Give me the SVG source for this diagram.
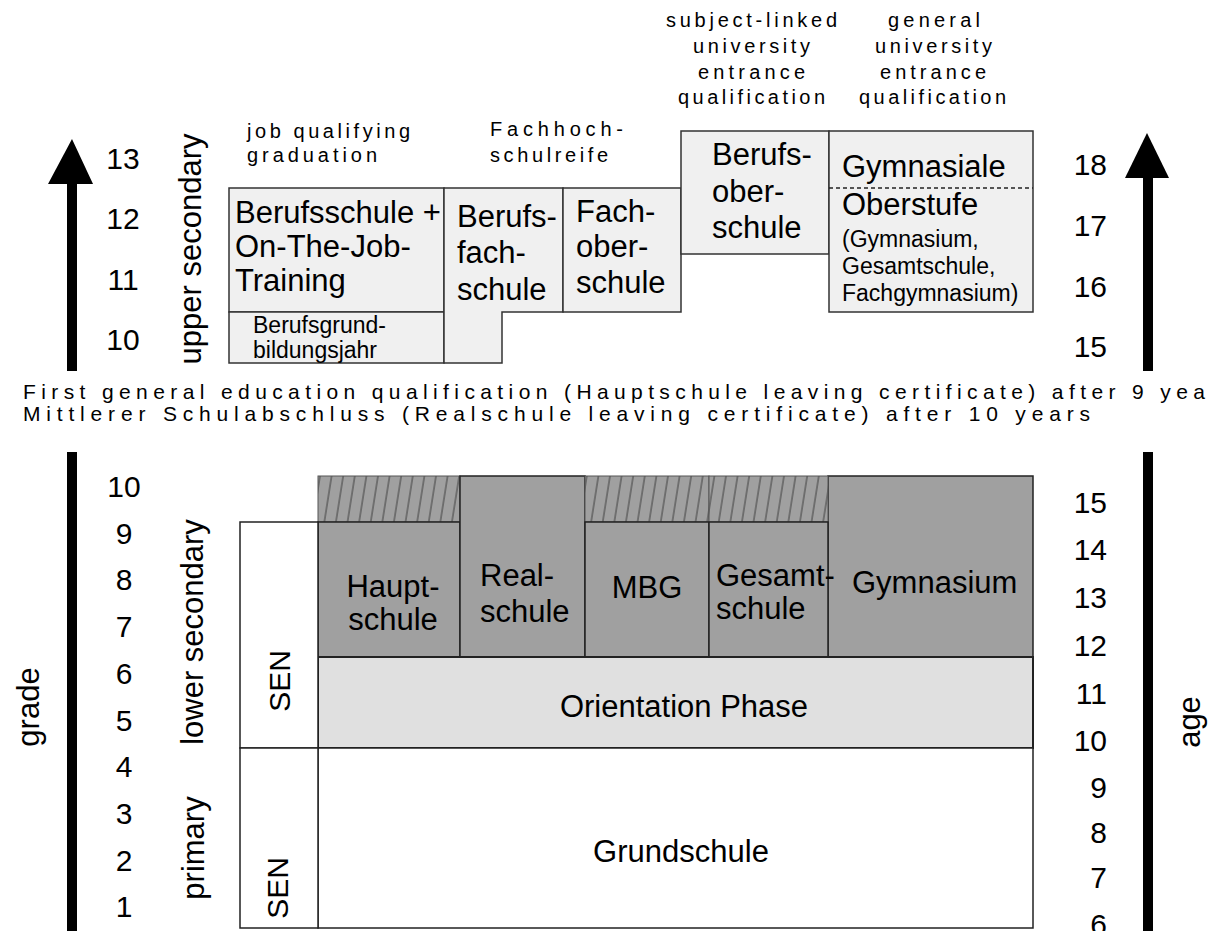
<svg xmlns="http://www.w3.org/2000/svg" width="1208" height="931" viewBox="0 0 1208 931">
<style>
text{font-family:"Liberation Sans",Arial,sans-serif;fill:#000}
.bx{fill:#f0f0f0;stroke:#333;stroke-width:1.5}
.dk{fill:#a0a0a0;stroke:#222;stroke-width:1.5}
.ht{fill:url(#hatch);stroke:#555;stroke-width:1}
.wh{fill:#fff;stroke:#222;stroke-width:1.5}
.b{font-size:31px}
.m{font-size:23px}
.n{font-size:30px}
.q{font-size:20px}
.l{font-size:21px}
.ax{fill:#000}
</style>
<defs>
<pattern id="hatch" patternUnits="userSpaceOnUse" width="11.6" height="46" patternTransform="skewX(-9)">
<rect width="11.6" height="46" fill="#a0a0a0"/>
<line x1="1" y1="-1" x2="1" y2="47" stroke="#333" stroke-width="0.9"/>
</pattern>
</defs>

<g id="axes">
<polygon class="ax" points="72,139 48,184 93,184"/>
<rect class="ax" x="67" y="183" width="10" height="188"/>
<polygon class="ax" points="1147,133 1125,178 1169,178"/>
<rect class="ax" x="1143" y="177" width="10" height="194"/>
<rect class="ax" x="67" y="452" width="10" height="479"/>
<rect class="ax" x="1143" y="452" width="10" height="479"/>
</g>

<g id="labels">
<text class="n" text-anchor="middle" x="123" y="169">13</text>
<text class="n" text-anchor="middle" x="123" y="229">12</text>
<text class="n" text-anchor="middle" x="123" y="290">11</text>
<text class="n" text-anchor="middle" x="123" y="350">10</text>
<text class="n" text-anchor="end" x="1107" y="175">18</text>
<text class="n" text-anchor="end" x="1107" y="236">17</text>
<text class="n" text-anchor="end" x="1107" y="297">16</text>
<text class="n" text-anchor="end" x="1107" y="357">15</text>
<text class="b" text-anchor="middle" transform="translate(201,249) rotate(-90)">upper secondary</text>

<text class="n" text-anchor="middle" x="124" y="497">10</text>
<text class="n" text-anchor="middle" x="124" y="544">9</text>
<text class="n" text-anchor="middle" x="124" y="590">8</text>
<text class="n" text-anchor="middle" x="124" y="637">7</text>
<text class="n" text-anchor="middle" x="124" y="684">6</text>
<text class="n" text-anchor="middle" x="124" y="731">5</text>
<text class="n" text-anchor="middle" x="124" y="777">4</text>
<text class="n" text-anchor="middle" x="124" y="824">3</text>
<text class="n" text-anchor="middle" x="124" y="871">2</text>
<text class="n" text-anchor="middle" x="124" y="917">1</text>
<text class="n" text-anchor="end" x="1107" y="513">15</text>
<text class="n" text-anchor="end" x="1107" y="560">14</text>
<text class="n" text-anchor="end" x="1107" y="608">13</text>
<text class="n" text-anchor="end" x="1107" y="656">12</text>
<text class="n" text-anchor="end" x="1107" y="704">11</text>
<text class="n" text-anchor="end" x="1107" y="751">10</text>
<text class="n" text-anchor="end" x="1107" y="798">9</text>
<text class="n" text-anchor="end" x="1107" y="843">8</text>
<text class="n" text-anchor="end" x="1107" y="888">7</text>
<text class="n" text-anchor="end" x="1107" y="935">6</text>
<text class="b" text-anchor="middle" transform="translate(39,707) rotate(-90)">grade</text>
<text class="b" text-anchor="middle" transform="translate(1200,722) rotate(-90)">age</text>
<text class="b" text-anchor="middle" transform="translate(203,632) rotate(-90)">lower secondary</text>
<text class="b" text-anchor="middle" transform="translate(204,848) rotate(-90)">primary</text>

<text class="q" x="247" y="138" textLength="163" lengthAdjust="spacing">job qualifying</text>
<text class="q" x="247" y="162" textLength="130" lengthAdjust="spacing">graduation</text>
<text class="q" x="490" y="136" textLength="133" lengthAdjust="spacing">Fachhoch-</text>
<text class="q" x="490" y="162" textLength="118" lengthAdjust="spacing">schulreife</text>
<text class="q" x="666" y="27" textLength="171" lengthAdjust="spacing">subject-linked</text>
<text class="q" x="693" y="53" textLength="117" lengthAdjust="spacing">university</text>
<text class="q" x="698" y="79" textLength="107" lengthAdjust="spacing">entrance</text>
<text class="q" x="678" y="104" textLength="147" lengthAdjust="spacing">qualification</text>
<text class="q" x="888" y="27" textLength="92" lengthAdjust="spacing">general</text>
<text class="q" x="875" y="53" textLength="117" lengthAdjust="spacing">university</text>
<text class="q" x="880" y="79" textLength="106" lengthAdjust="spacing">entrance</text>
<text class="q" x="859" y="104" textLength="147" lengthAdjust="spacing">qualification</text>

<text class="l" x="23" y="399" textLength="1182" lengthAdjust="spacing">First general education qualification (Hauptschule leaving certificate) after 9 yea</text>
<text class="l" x="23" y="421" textLength="1067" lengthAdjust="spacing">Mittlerer Schulabschluss (Realschule leaving certificate) after 10 years</text>
</g>

<g id="berufsschule">
<rect class="bx" x="229" y="188" width="215" height="124"/>
<text class="b" x="235" y="223">Berufsschule +</text>
<text class="b" x="235" y="257">On-The-Job-</text>
<text class="b" x="235" y="291">Training</text>
</g>
<g id="berufsgrundbildungsjahr">
<rect class="bx" x="229" y="312" width="215" height="51"/>
<text class="m" x="253" y="333">Berufsgrund-</text>
<text class="m" x="253" y="358">bildungsjahr</text>
</g>
<g id="berufsfachschule">
<polygon class="bx" points="444,188 563,188 563,312 502,312 502,363 444,363"/>
<text class="b" x="457" y="227">Berufs-</text>
<text class="b" x="457" y="263">fach-</text>
<text class="b" x="457" y="300">schule</text>
</g>
<g id="fachoberschule">
<rect class="bx" x="563" y="188" width="118" height="124"/>
<text class="b" x="576" y="222">Fach-</text>
<text class="b" x="576" y="257">ober-</text>
<text class="b" x="576" y="293">schule</text>
</g>
<g id="berufsoberschule">
<rect class="bx" x="681" y="131" width="148" height="123"/>
<text class="b" x="712" y="165">Berufs-</text>
<text class="b" x="712" y="202">ober-</text>
<text class="b" x="712" y="238">schule</text>
</g>
<g id="gymnasiale-oberstufe">
<rect class="bx" x="829" y="131" width="204" height="181"/>
<line x1="829" y1="188" x2="1033" y2="188" stroke="#222" stroke-width="1.5" stroke-dasharray="4,3"/>
<text class="b" x="842" y="177">Gymnasiale</text>
<text class="b" x="842" y="215">Oberstufe</text>
<text class="m" x="842" y="247">(Gymnasium,</text>
<text class="m" x="842" y="274">Gesamtschule,</text>
<text class="m" x="842" y="301">Fachgymnasium)</text>
</g>

<g id="hauptschule">
<rect class="ht" x="318" y="476" width="142" height="46"/>
<rect class="dk" x="318" y="522" width="142" height="135"/>
<text class="b" text-anchor="middle" x="393" y="597">Haupt-</text>
<text class="b" text-anchor="middle" x="393" y="630">schule</text>
</g>
<g id="realschule">
<rect class="dk" x="460" y="476" width="125" height="181"/>
<text class="b" x="480" y="586">Real-</text>
<text class="b" x="480" y="622">schule</text>
</g>
<g id="mbg">
<rect class="ht" x="585" y="476" width="124" height="46"/>
<rect class="dk" x="585" y="522" width="124" height="135"/>
<text class="b" text-anchor="middle" x="647" y="598">MBG</text>
</g>
<g id="gymnasium">
<rect class="dk" x="828" y="476" width="205" height="181"/>
<text class="b" x="852" y="593">Gymnasium</text>
</g>
<g id="gesamtschule">
<rect class="ht" x="709" y="476" width="119" height="46"/>
<rect class="dk" x="709" y="522" width="119" height="135"/>
<text class="b" x="716" y="586">Gesamt-</text>
<text class="b" x="716" y="619">schule</text>
</g>
<g id="orientation-phase">
<rect x="318" y="657" width="715" height="91" fill="#e0e0e0" stroke="#222" stroke-width="2"/>
<text class="b" text-anchor="middle" x="684" y="717">Orientation Phase</text>
</g>
<g id="grundschule">
<rect class="wh" x="318" y="748" width="715" height="180"/>
<text class="b" text-anchor="middle" x="681" y="862">Grundschule</text>
</g>
<g id="sen-lower-secondary">
<rect class="wh" x="240" y="522" width="78" height="226"/>
<text class="n" text-anchor="middle" transform="translate(290,681) rotate(-90)">SEN</text>
</g>
<g id="sen-primary">
<rect class="wh" x="240" y="748" width="78" height="180"/>
<text class="n" text-anchor="middle" transform="translate(288,888) rotate(-90)">SEN</text>
</g>
</svg>
